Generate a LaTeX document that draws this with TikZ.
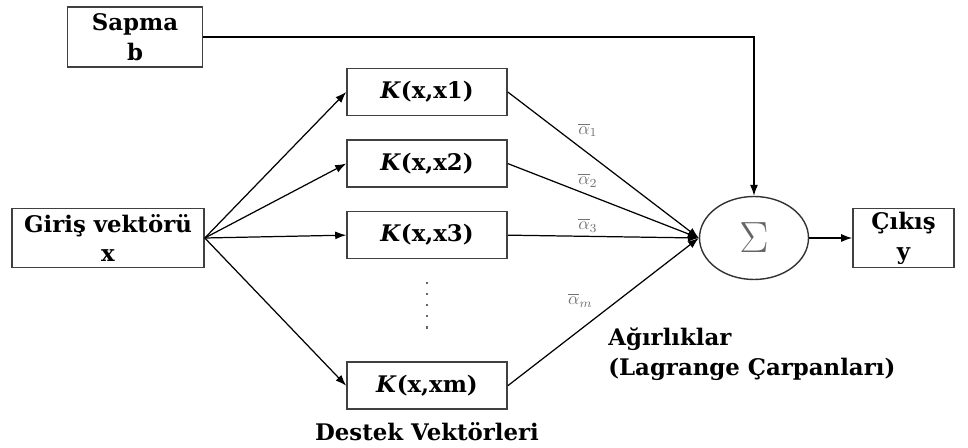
\documentclass[tikz,border=0pt]{standalone}
\usepackage{fontspec}
\setmainfont{DejaVu Serif}
\usetikzlibrary{arrows.meta,positioning,shapes.geometric}

\begin{document}
\begin{tikzpicture}[
  node distance=0.46cm and 0.86cm,
  every node/.style={font=\fontsize{13}{17}\selectfont\bfseries},
  blk/.style={rectangle, draw=black!75, line width=0.9pt, fill=white,
              align=center, inner sep=1pt},
  inbox/.style={blk, minimum width=3.84cm, minimum height=1.18cm},
  kbox/.style={blk, minimum width=3.2cm, minimum height=0.94cm},
  sumnode/.style={ellipse, draw=black!80, line width=0.8pt, minimum width=2.18cm,
                  minimum height=1.66cm, inner sep=0pt},
  wlbl/.style={font=\fontsize{10}{11}\selectfont, text=black!55, inner sep=1pt},
  arr/.style={-{Latex[length=2.2mm,width=1.6mm]}, line width=0.7pt}
]
\useasboundingbox (0,0) rectangle (19.36,-8.96);

\node[inbox] (giris) at (2.16,-4.76) {Giriş vektörü\\x};
\node[blk, minimum width=2.7cm, minimum height=1.2cm] (sapma) at (2.70,-0.74) {Sapma\\b};

\node[kbox] (k1) at (8.54,-1.84) {\textit{K}(x,x1)};
\node[kbox] (k2) [below=of k1] {\textit{K}(x,x2)};
\node[kbox] (k3) [below=of k2] {\textit{K}(x,x3)};
\node[kbox] (km) [below=2.04cm of k3] {\textit{K}(x,xm)};
\node (destek) [below=0.12cm of km] {Destek Vektörleri};

\coordinate (dtop) at (8.54,-5.64);
\coordinate (dbot) at (8.54,-6.68);
\draw[black!60, line width=1.3pt, dash pattern=on 1.3pt off 5pt] (dtop) -- (dbot);

\node[sumnode] (sum) at (15.08,-4.76) {\fontsize{28}{28}\selectfont\color{black!60}$\Sigma$};
\node[blk, minimum width=2.02cm, minimum height=1.18cm] (cikis) [right=of sum] {Çıkış\\y};
\node[anchor=north west, align=left, inner sep=0pt] (agirlik) at (12.16,-6.55)
  {Ağırlıklar\\(Lagrange Çarpanları)};

\draw[arr] (giris.east) -- (k1.west);
\draw[arr] (giris.east) -- (k2.west);
\draw[arr] (giris.east) -- (k3.west);
\draw[arr] (giris.east) -- (km.west);

\draw[arr] (k1.east) -- node[wlbl, pos=.42, above=8pt] {$\overline{\alpha}_1$} (sum.west);
\draw[arr] (k2.east) -- node[wlbl, pos=.42, above=3pt] {$\overline{\alpha}_2$} (sum.west);
\draw[arr] (k3.east) -- node[wlbl, pos=.42, above=1pt] {$\overline{\alpha}_3$} (sum.west);
\draw[arr] (km.east) -- node[wlbl, pos=.42, above left=8pt and -4pt] {$\overline{\alpha}_m$} (sum.west);

\draw[arr] (sapma.east) -| (sum.north);
\draw[arr] (sum.east) -- (cikis.west);
\end{tikzpicture}
\end{document}
